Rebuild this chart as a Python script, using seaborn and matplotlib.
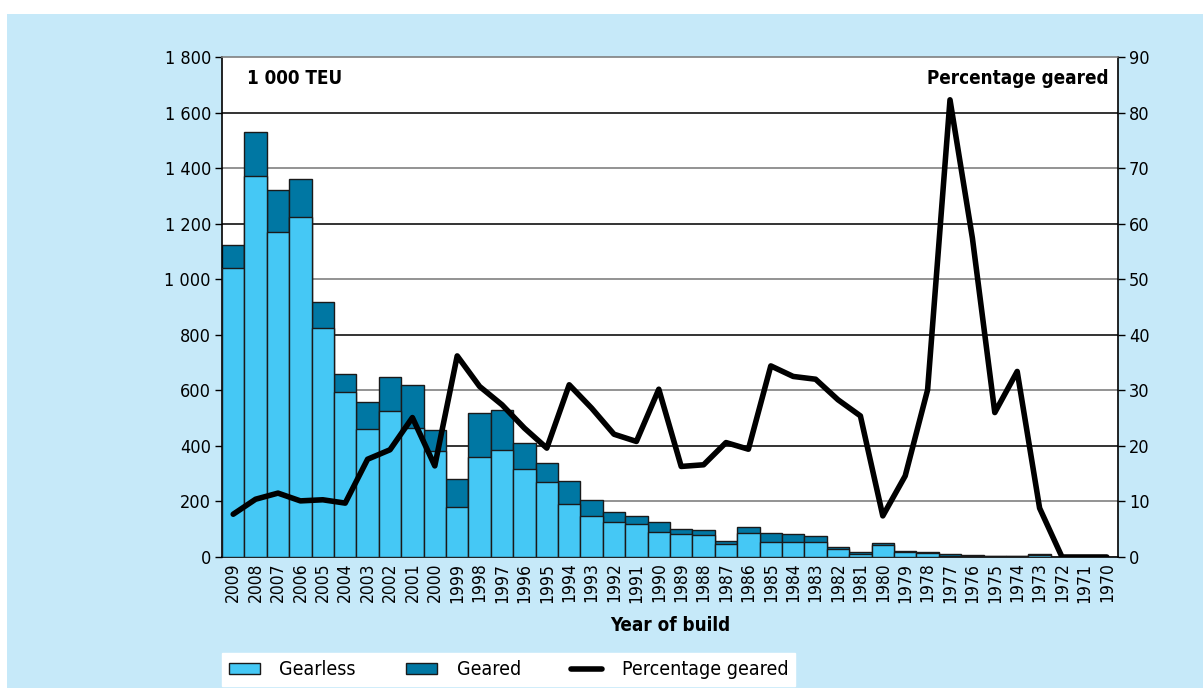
import numpy as np
import pandas as pd
import matplotlib
matplotlib.use("Agg")
import matplotlib.pyplot as plt
from matplotlib.patches import Rectangle, Patch
from matplotlib.lines import Line2D
import matplotlib.ticker as mticker
import seaborn as sns

# --- data ---
years = [str(y) for y in range(2009, 1969, -1)]
gearless = [1040, 1373, 1171, 1223, 825, 593, 462, 524, 466, 382,
            180, 361, 384, 316, 271, 190, 149, 127, 118, 89,
            82, 81, 46, 86, 54, 54, 53, 29, 10, 42,
            17, 13, 2, 4, 2, 3, 9, 1, 1, 1]
total = [1125, 1531, 1320, 1361, 919, 659, 559, 648, 619, 457,
         281, 520, 529, 409, 337, 275, 204, 163, 149, 127,
         100, 97, 58, 107, 85, 83, 76, 37, 17, 49,
         20, 19, 11, 8, 4, 5, 12, 1, 1, 1]
pct_geared = [7.7, 10.4, 11.5, 10.1, 10.3, 9.7, 17.6, 19.3, 25.1, 16.4,
              36.2, 30.7, 27.4, 23.2, 19.6, 31.0, 26.8, 22.1, 20.8, 30.2,
              16.3, 16.6, 20.6, 19.4, 34.4, 32.5, 32.0, 28.3, 25.4, 7.4,
              14.6, 30.1, 82.3, 57.4, 26.0, 33.4, 8.8, 0.0, 0.0, 0.0]

df = pd.DataFrame({"year": years, "gearless": gearless, "total": total,
                   "pct": pct_geared})

C_LIGHT = "#45c8f5"
C_DARK = "#0077a3"
C_BG = "#c6e9f9"

sns.set_style("white")
plt.rcParams["font.family"] = ["Liberation Sans Narrow", "DejaVu Sans"]
plt.rcParams["font.stretch"] = "condensed"
for k in ["text.color", "axes.labelcolor", "xtick.color", "ytick.color"]:
    plt.rcParams[k] = "black"

fig = plt.figure(figsize=(12.03, 6.88), dpi=100, facecolor="white")
fig.patches.append(Rectangle((7 / 1203, 0), 1, (688 - 14) / 688,
                             transform=fig.transFigure, facecolor=C_BG,
                             edgecolor="none", zorder=-10))

ax = fig.add_axes([222 / 1203, (688 - 557) / 688, 896 / 1203, 500 / 688])
ax.set_facecolor("white")

# grid lines, alternating grey / dark like the original
for i, v in enumerate(range(200, 1800, 200)):
    ax.axhline(v, color="#808080" if i % 2 == 0 else "#111111", lw=1.2, zorder=0)

sns.barplot(data=df, x="year", y="total", color=C_DARK, width=1.0,
            edgecolor="#1a1a1a", linewidth=1.0, saturation=1, ax=ax, zorder=2)
sns.barplot(data=df, x="year", y="gearless", color=C_LIGHT, width=1.0,
            edgecolor="#1a1a1a", linewidth=1.0, saturation=1, ax=ax, zorder=3)

ax.set_xlim(-0.5, len(years) - 0.5)
ax.set_ylim(0, 1800)
ax.set_yticks(range(0, 1801, 200))
ax.yaxis.set_major_formatter(mticker.FuncFormatter(
    lambda v, p: f"{int(v):,}".replace(",", " ")))
ax.set_xlabel("Year of build", fontsize=13.5, fontweight="bold", labelpad=10)
ax.set_ylabel("")
ax.tick_params(axis="y", direction="out", length=5, width=1, labelsize=13,
               pad=3)
ax.tick_params(axis="x", which="major", length=0, labelsize=12.5, pad=4,
               labelrotation=90)
ax.set_xticks(np.arange(-0.5, len(years), 1), minor=True)
ax.tick_params(axis="x", which="minor", direction="out", length=5, width=1)
for s in ["left", "right", "bottom"]:
    ax.spines[s].set_color("black")
    ax.spines[s].set_linewidth(1.2)
ax.spines["top"].set_color("#808080")
ax.spines["top"].set_linewidth(1.2)

ax.text(0.028, 0.975, "1 000 TEU", transform=ax.transAxes, ha="left",
        va="top", fontsize=13.5, fontweight="bold")

# percentage line on the right axis
ax2 = ax.twinx()
sns.lineplot(x=np.arange(len(years)), y=df["pct"], color="black",
             linewidth=4, ax=ax2)
ax2.set_ylim(0, 90)
ax2.set_yticks(range(0, 91, 10))
ax2.set_ylabel("")
ax2.tick_params(axis="y", direction="out", length=5, width=1, labelsize=13,
                pad=3)
for s in ["left", "right", "bottom", "top"]:
    ax2.spines[s].set_visible(False)
ax2.text(0.989, 0.975, "Percentage geared", transform=ax2.transAxes,
         ha="right", va="top", fontsize=13.5, fontweight="bold")

handles = [Patch(facecolor=C_LIGHT, edgecolor="#1a1a1a", linewidth=1),
           Patch(facecolor=C_DARK, edgecolor="#1a1a1a", linewidth=1),
           Line2D([0], [0], color="black", linewidth=4)]
leg = fig.legend(handles, ["Gearless", "Geared", "Percentage geared"],
                 loc="lower left", ncol=3, mode="expand",
                 bbox_to_anchor=(222 / 1203, 2 / 688, 573 / 1203, 33 / 688),
                 frameon=True, fancybox=False, fontsize=14,
                 handlelength=1.6, handleheight=0.5, handletextpad=1.0,
                 borderaxespad=0, borderpad=0.35)
leg.get_frame().set_facecolor("white")
leg.get_frame().set_edgecolor("white")
leg.get_frame().set_alpha(1)

fig.savefig("out.png", dpi=100, facecolor=fig.get_facecolor())
